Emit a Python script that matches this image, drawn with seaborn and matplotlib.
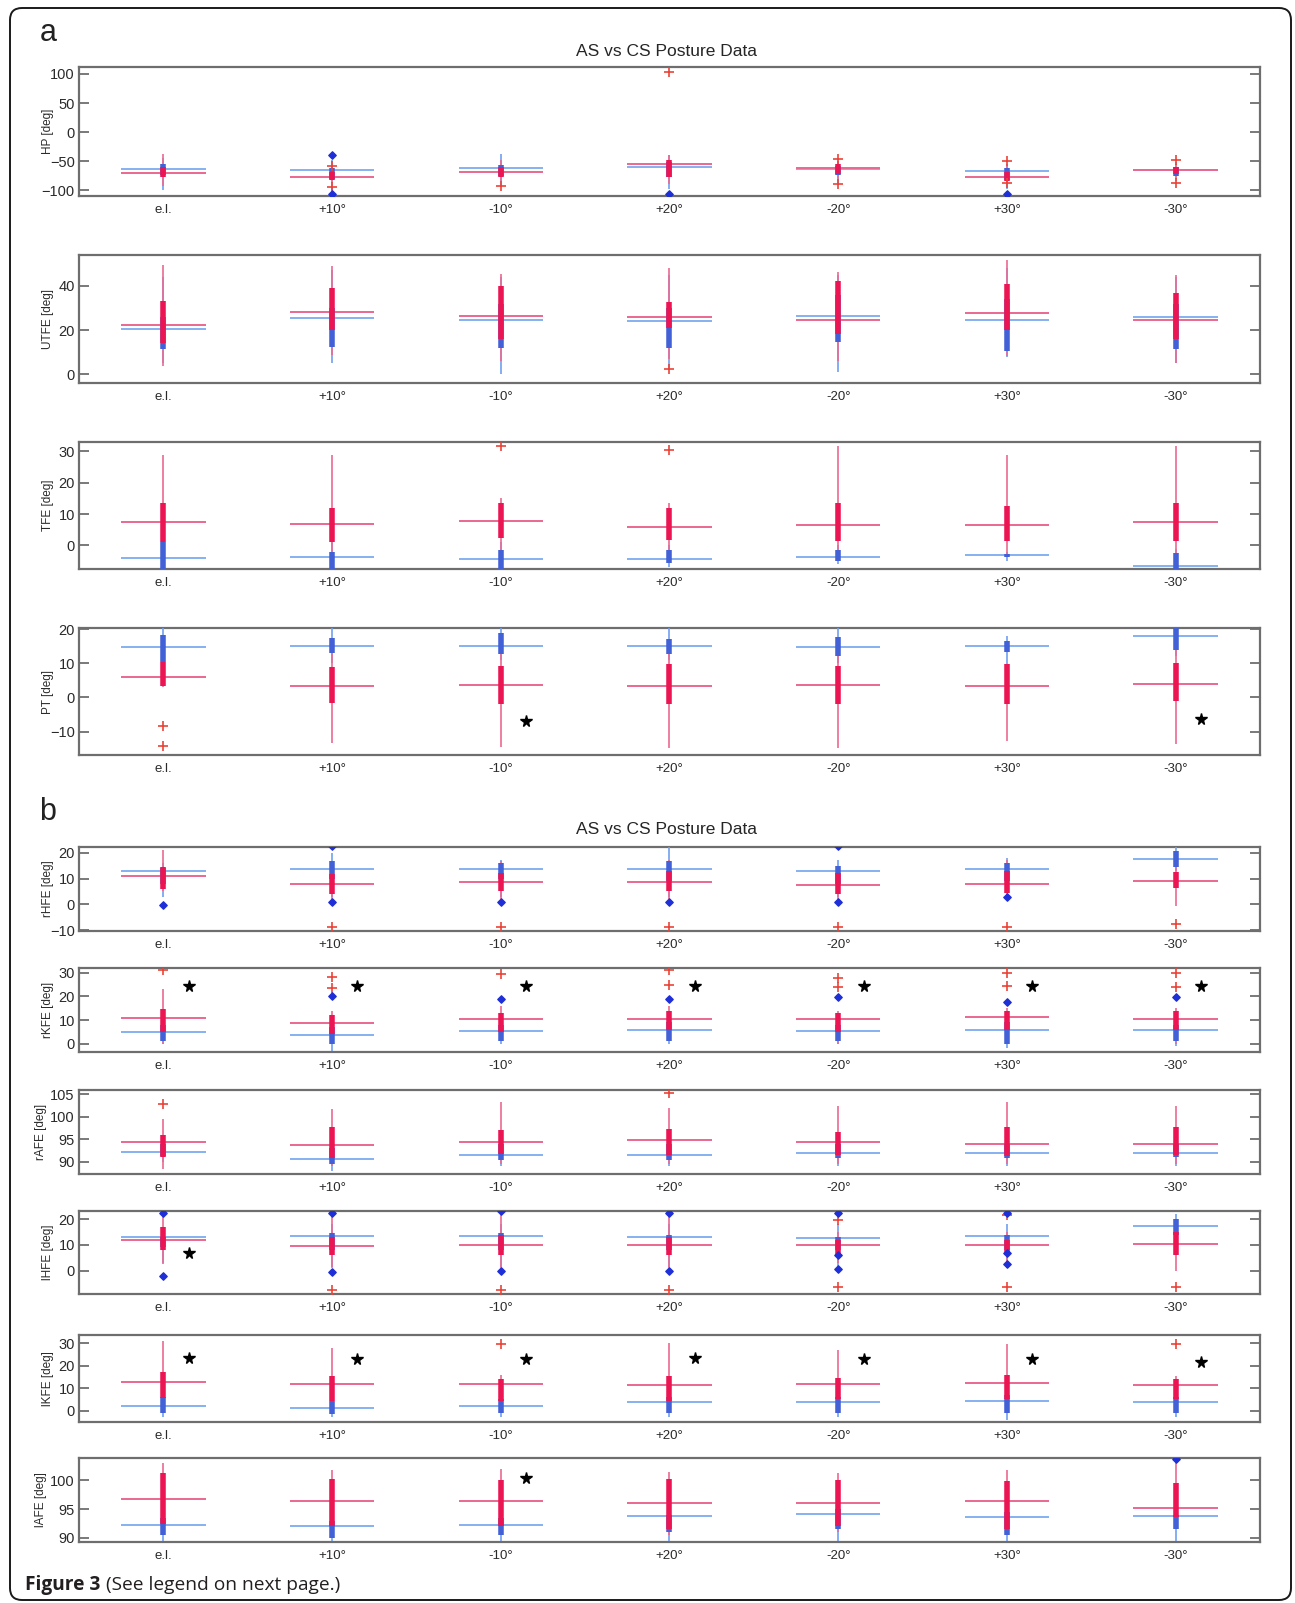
import numpy as np
import matplotlib
matplotlib.use("Agg")
import matplotlib.pyplot as plt
import matplotlib.patches as mpatches
import pandas as pd
import seaborn as sns

sns.set_style("white")
plt.rcParams["font.family"] = ["Liberation Sans", "DejaVu Sans"]

CATS = ["e.l.", "+10°", "-10°", "+20°", "-20°", "+30°", "-30°"]

# each entry: (whisker low, q1, q3, whisker high, mean line)
HP_CS = [(-100, -74, -55, -45, -64), (-100, -80, -62, -48, -66), (-95, -76, -56, -38, -62),
         (-98, -78, -52, -40, -60), (-90, -74, -58, -50, -64), (-98, -82, -62, -55, -67),
         (-85, -75, -60, -52, -66)]
HP_AS = [(-92, -77, -60, -38, -70), (-88, -83, -68, -62, -77), (-85, -78, -60, -48, -69),
         (-90, -78, -48, -40, -55), (-80, -72, -55, -50, -62), (-90, -84, -68, -58, -78),
         (-80, -72, -60, -55, -66)]
HP_CS_OUT = [[], [-40, -107], [], [-107], [], [-107], []]
HP_AS_OUT = [[], [-58, -95], [-92], [104], [-47, -90], [-50, -88], [-48, -88]]

UTFE_CS = [(5, 11.4, 26, 44, 20.3), (5, 12.4, 30, 47, 25.6), (0, 12, 32, 44, 24.5),
           (3, 12, 30, 45, 24), (1, 14.4, 36, 45, 26.5), (8, 10.7, 34, 48, 24.6),
           (5, 11.6, 32, 44, 26)]
UTFE_AS = [(3.6, 14, 33, 49.5, 22.3), (8.6, 20, 39.2, 49, 28.3), (6, 16, 40, 45.6, 26.5),
           (7, 21, 32.6, 48, 26), (6, 18, 42, 46.5, 24.6), (8.4, 20, 41, 51.6, 27.5),
           (5, 16, 36.7, 45, 24.6)]
UTFE_CS_OUT = [[], [], [], [], [], [], []]
UTFE_AS_OUT = [[], [], [], [2.3], [], [], []]

TFE_CS = [(-12, -9, 1, 3, -3.9), (-12, -9, -2, 1, -3.6), (-12, -9, -1.3, 1, -4.2),
          (-7, -5.5, -1.6, 0, -4.2), (-6, -4.9, -1.6, 0, -3.6), (-5, -3.8, -2.8, -2, -3),
          (-12, -9, -2.3, -1, -6.5)]
TFE_AS = [(-4, 1, 13.4, 29, 7.5), (-4, 1, 12, 29, 6.8), (-3, 2.3, 13.4, 15, 7.8),
          (-3, 1.6, 12, 13.7, 5.9), (-3, 1.3, 13.4, 31.6, 6.5), (-3, 1.3, 12.7, 29, 6.5),
          (-3, 1.3, 13.4, 31.6, 7.5)]
TFE_CS_OUT = [[], [], [], [], [], [], []]
TFE_AS_OUT = [[], [], [31.6], [30.6], [], [], []]

PT_CS = [(9, 10.3, 18.2, 22, 14.8), (10, 12.9, 17.3, 22, 14.9), (11, 12.7, 18.7, 22, 15.1),
         (11, 12.7, 17, 22, 15.1), (10, 12.2, 17.8, 22, 14.8), (10, 13.4, 16.6, 18, 15.1),
         (12, 14, 21, 22, 18.1)]
PT_AS = [(3, 3.5, 10.3, 18, 5.9), (-13.2, -1.5, 8.8, 17, 3.3), (-14.5, -2, 9.2, 15, 3.6),
         (-14.8, -2, 9.8, 14, 3.3), (-14.8, -2, 9.2, 15, 3.6), (-12.8, -2, 9.8, 10, 3.3),
         (-13.6, -1, 10, 16, 3.9)]
PT_CS_OUT = [[], [], [], [], [], [], []]
PT_AS_OUT = [[-8.2, -14.3], [], [], [], [], [], []]
PT_STARS = [(2, -6.8), (6, -6.2)]

RHFE_CS = [(3, 8, 14, 16, 13), (3, 10, 16.6, 20, 13.8), (3, 10, 16, 17, 13.8),
           (3, 9, 16.6, 22.5, 13.8), (3, 8, 15, 17, 13), (5, 9, 16, 18, 13.8),
           (13, 14.6, 20.5, 22.5, 17.4)]
RHFE_AS = [(5, 6, 14.6, 21, 11), (2, 4, 11.9, 15, 8), (2, 5, 12, 16.6, 8.7),
           (2, 5, 13, 17, 8.7), (2, 4, 12, 14, 7.5), (2, 4.5, 13, 17, 8),
           (-0.5, 6.3, 12.6, 16.5, 9)]
RHFE_CS_OUT = [[-0.4], [22.5, 1], [0.8], [0.8], [22.5, 1], [2.8], []]
RHFE_AS_OUT = [[], [-8.7], [-8.7], [-8.7], [-8.7], [-8.7], [-7.5]]

RKFE_CS = [(0, 1, 8, 10, 4.8), (-3, 0, 7, 12, 3.5), (0, 1, 8, 12, 5.2),
           (0, 1, 9, 12, 5.7), (0, 1, 8, 12, 5.2), (-2, 0, 9, 12, 6),
           (-1, 1, 8, 12, 6)]
RKFE_AS = [(0, 4.8, 14.8, 23, 10.9), (0, 4, 12, 14, 8.7), (1, 5, 13, 16, 10.4),
           (1, 6, 14, 16, 10.4), (0, 5, 13, 14, 10.4), (0, 6, 14, 15, 11.3),
           (0, 6, 14, 15, 10.4)]
RKFE_CS_OUT = [[], [20], [18.7], [19.1], [19.6], [17.8], [19.6]]
RKFE_AS_OUT = [[31], [28, 23.5], [29.6], [31, 24.8], [27.8, 23.9], [30, 24.3], [30, 23.9]]
RKFE_STARS = [(0, 24.5), (1, 24.5), (2, 24.2), (3, 24.5), (4, 24.5), (5, 24.5), (6, 24.2)]

RAFE_CS = [(90, 91.3, 94, 96, 92.2), (88, 89.5, 93, 95, 90.7), (89, 90.5, 94, 96, 91.6),
           (89, 90.5, 94, 96, 91.6), (89, 90.8, 94, 96, 92), (89, 90.8, 94, 96, 92),
           (89, 91, 94, 96, 92)]
RAFE_AS = [(88.5, 91.1, 96, 99.5, 94.3), (89, 90.9, 97.6, 101.6, 93.8), (89.5, 91.8, 97, 103.2, 94.3),
           (89.5, 91.5, 97.3, 102, 94.9), (89.5, 91.5, 96.5, 102.3, 94.3), (89.5, 91.3, 97.6, 103.2, 94),
           (89.5, 91.5, 97.6, 102.3, 94)]
RAFE_CS_OUT = [[], [], [], [], [], [], []]
RAFE_AS_OUT = [[102.8], [], [], [105.2], [], [], []]

LHFE_CS = [(3, 9, 13, 16, 12.9), (1, 8, 14.5, 18, 13.3), (1, 8, 14.5, 18, 13.3),
           (1, 8, 14, 18, 12.9), (1, 8, 13, 18, 12.5), (1, 8, 14, 18, 13.3),
           (13, 14, 20, 22, 17.3)]
LHFE_AS = [(2.5, 8.2, 16.9, 22, 11.8), (1.5, 6, 13, 22, 9.4), (1.5, 6, 14, 22.5, 9.8),
           (1.5, 6, 13, 22, 9.8), (3, 6, 12, 15, 9.8), (3, 6, 12, 15, 9.8),
           (0, 6, 15, 20, 10.2)]
LHFE_CS_OUT = [[22.4, -2], [22.4, -0.4], [23.1, 0], [22.4, 0], [22.4, 5.9, 0.8], [22.4, 6.7, 2.7], []]
LHFE_AS_OUT = [[], [-7.5], [-7.5], [-7.5], [19.6, -6.3], [21.7, -6.3], [-6.3]]
LHFE_STARS = [(0, 7)]

LKFE_CS = [(-3, -1, 6, 8, 2.3), (-3, -1.5, 4.5, 7, 1.4), (-3, -1, 5, 7, 2.3),
           (-3, -1, 6, 8, 3.7), (-3, -1, 6, 8, 3.7), (-4, -1, 7, 9, 4.1),
           (-3, -1, 6, 8, 3.7)]
LKFE_AS = [(-1, 5.5, 17, 30.9, 12.9), (0, 4.1, 15.2, 28, 12), (0, 4.5, 14, 16, 12),
           (0, 4.5, 15.5, 30, 11.5), (0, 5, 14.5, 27, 12), (0, 5, 16, 29.5, 12.4),
           (0, 5, 14, 15.5, 11.5)]
LKFE_CS_OUT = [[], [], [], [], [], [], []]
LKFE_AS_OUT = [[], [], [29.5], [], [], [], [29.5]]
LKFE_STARS = [(0, 23.5), (1, 22.8), (2, 22.8), (3, 23.3), (4, 22.8), (5, 22.8), (6, 21.7)]

LAFE_CS = [(89.5, 90.5, 93.5, 95, 92.3), (89.5, 90, 93, 95, 92), (89.5, 90.5, 93.5, 95, 92.3),
           (89.5, 91, 94, 96, 93.9), (89.5, 91.5, 95, 96, 94.1), (89.5, 90.5, 94.5, 96, 93.6),
           (89.5, 91.5, 94, 96, 93.9)]
LAFE_AS = [(91, 92.5, 101.3, 103, 96.8), (90.5, 92, 100.3, 101.8, 96.4), (90.5, 92, 100, 102, 96.4),
           (90.5, 91.5, 100.2, 101.5, 96), (91, 92, 100, 101.3, 96), (90.5, 91.5, 99.9, 101.8, 96.4),
           (91.5, 93.6, 99.5, 103, 95.2)]
LAFE_CS_OUT = [[], [], [], [], [], [], [103.8]]
LAFE_AS_OUT = [[], [], [], [], [], [], []]
LAFE_STARS = [(2, 100.4)]

PANELS = [
    ("HP [deg]", HP_CS, HP_AS, HP_CS_OUT, HP_AS_OUT, [], (-110, 112), [-100, -50, 0, 50, 100]),
    ("UTFE [deg]", UTFE_CS, UTFE_AS, UTFE_CS_OUT, UTFE_AS_OUT, [], (-4, 54), [0, 20, 40]),
    ("TFE [deg]", TFE_CS, TFE_AS, TFE_CS_OUT, TFE_AS_OUT, [], (-7.5, 33), [0, 10, 20, 30]),
    ("PT [deg]", PT_CS, PT_AS, PT_CS_OUT, PT_AS_OUT, PT_STARS, (-16.8, 20.3), [-10, 0, 10, 20]),
    ("rHFE [deg]", RHFE_CS, RHFE_AS, RHFE_CS_OUT, RHFE_AS_OUT, [], (-10.3, 22.2), [-10, 0, 10, 20]),
    ("rKFE [deg]", RKFE_CS, RKFE_AS, RKFE_CS_OUT, RKFE_AS_OUT, RKFE_STARS, (-3.5, 32), [0, 10, 20, 30]),
    ("rAFE [deg]", RAFE_CS, RAFE_AS, RAFE_CS_OUT, RAFE_AS_OUT, [], (87.3, 105.9), [90, 95, 100, 105]),
    ("lHFE [deg]", LHFE_CS, LHFE_AS, LHFE_CS_OUT, LHFE_AS_OUT, LHFE_STARS, (-9, 23.1), [0, 10, 20]),
    ("lKFE [deg]", LKFE_CS, LKFE_AS, LKFE_CS_OUT, LKFE_AS_OUT, LKFE_STARS, (-5, 33.6), [0, 10, 20, 30]),
    ("lAFE [deg]", LAFE_CS, LAFE_AS, LAFE_CS_OUT, LAFE_AS_OUT, LAFE_STARS, (89.3, 103.9), [90, 95, 100]),
]

# pixel boxes (top, bottom) of the panels
BOXES = [(67, 196), (255, 383), (442, 569), (628, 755), (847, 931),
         (968, 1052), (1090, 1174), (1211, 1294), (1335, 1422), (1458, 1542)]
W, H = 1295, 1603
LEFT, RIGHT = 79, 1260

BLUE = dict(mean="#86b0f0", whisk="#6f9ff0", box="#4361d6", out="#1f2fd8")
RED = dict(mean="#ea6890", whisk="#ea6a90", box="#ec1553", out="#ea4438")


def draw_group(ax, stats, sty, z):
    x = np.arange(1, 8)
    lo, q1, q3, hi, mean = np.array(stats, dtype=float).T
    ax.hlines(mean, x - 0.25, x + 0.25, color=sty["mean"], lw=1.4, zorder=2 + z)
    ax.vlines(x, lo, hi, color=sty["whisk"], lw=1.2, zorder=3 + z)
    ax.vlines(x, q1, q3, color=sty["box"], lw=4.0, zorder=4 + z)


def draw_outliers(ax, outs, marker, color, size, lw):
    rows = [(i + 1, v) for i, vals in enumerate(outs) for v in vals]
    if not rows:
        return
    df = pd.DataFrame(rows, columns=["pos", "val"])
    sns.scatterplot(data=df, x="pos", y="val", marker=marker, color=color,
                    s=size, linewidth=lw, edgecolor=color, ax=ax, zorder=8, legend=False)


fig = plt.figure(figsize=(W / 100, H / 100), dpi=100)

bg = fig.add_axes([0, 0, 1, 1], zorder=-5)
bg.set_xlim(0, W)
bg.set_ylim(H, 0)
bg.axis("off")
bg.add_patch(mpatches.FancyBboxPatch((10, 8), 1281, 1592,
                                     boxstyle="round,pad=0,rounding_size=12",
                                     fc="white", ec="#1a1a1a", lw=1.4))
bg.text(48, 33, "a", fontsize=22, ha="center", va="center", color="#222222")
bg.text(48, 812, "b", fontsize=22, ha="center", va="center", color="#222222")
for ty in (51, 830):
    bg.text(667, ty, "AS vs CS Posture Data", fontsize=12.5, ha="center", va="center",
            color="#262626")
bg.text(25, 1585, "Figure 3", fontsize=13.8, fontweight="bold", family="Open Sans",
        ha="left", va="center", color="#231f20")
bg.text(106, 1585, "(See legend on next page.)", fontsize=13.8, family="Open Sans",
        ha="left", va="center", color="#231f20")

for (label, cs, as_, cs_out, as_out, stars, ylim, yticks), (top, bot) in zip(PANELS, BOXES):
    ax = fig.add_axes([LEFT / W, 1 - bot / H, (RIGHT - LEFT) / W, (bot - top) / H])
    draw_group(ax, cs, BLUE, 0)
    draw_group(ax, as_, RED, 0.1)
    draw_outliers(ax, as_out, "+", RED["out"], 50, 1.2)
    draw_outliers(ax, cs_out, "D", BLUE["out"], 14, 1.0)
    for ci, sy in stars:
        ax.plot(ci + 1 + 0.15, sy, marker="*", color="black", ms=8.5, ls="none", zorder=9)

    ax.set_xlim(0.5, 7.5)
    ax.set_ylim(*ylim)
    ax.set_xticks(np.arange(1, 8))
    ax.set_xticklabels(CATS)
    ax.set_yticks(yticks)
    ax.set_xlabel("")
    ax.set_ylabel(label, fontsize=8.5, color="#2a2a2a")
    # three-digit positive ticks sit wider, push the label out a touch
    lab_x = -0.027 if max(yticks) >= 100 and min(yticks) > 0 else -0.021
    ax.yaxis.set_label_coords(lab_x, 0.5)
    ax.tick_params(axis="x", length=0, pad=6, labelsize=9.5, labelcolor="#2a2a2a")
    ax.tick_params(axis="y", direction="in", length=7, width=1.1, color="#555555",
                   left=True, right=True, labelsize=10.5, pad=3, labelcolor="#2a2a2a")
    for sp in ax.spines.values():
        sp.set_color("#6e6e6e")
        sp.set_linewidth(1.6)
    ax.grid(False)

fig.savefig("out.png", dpi=100)
